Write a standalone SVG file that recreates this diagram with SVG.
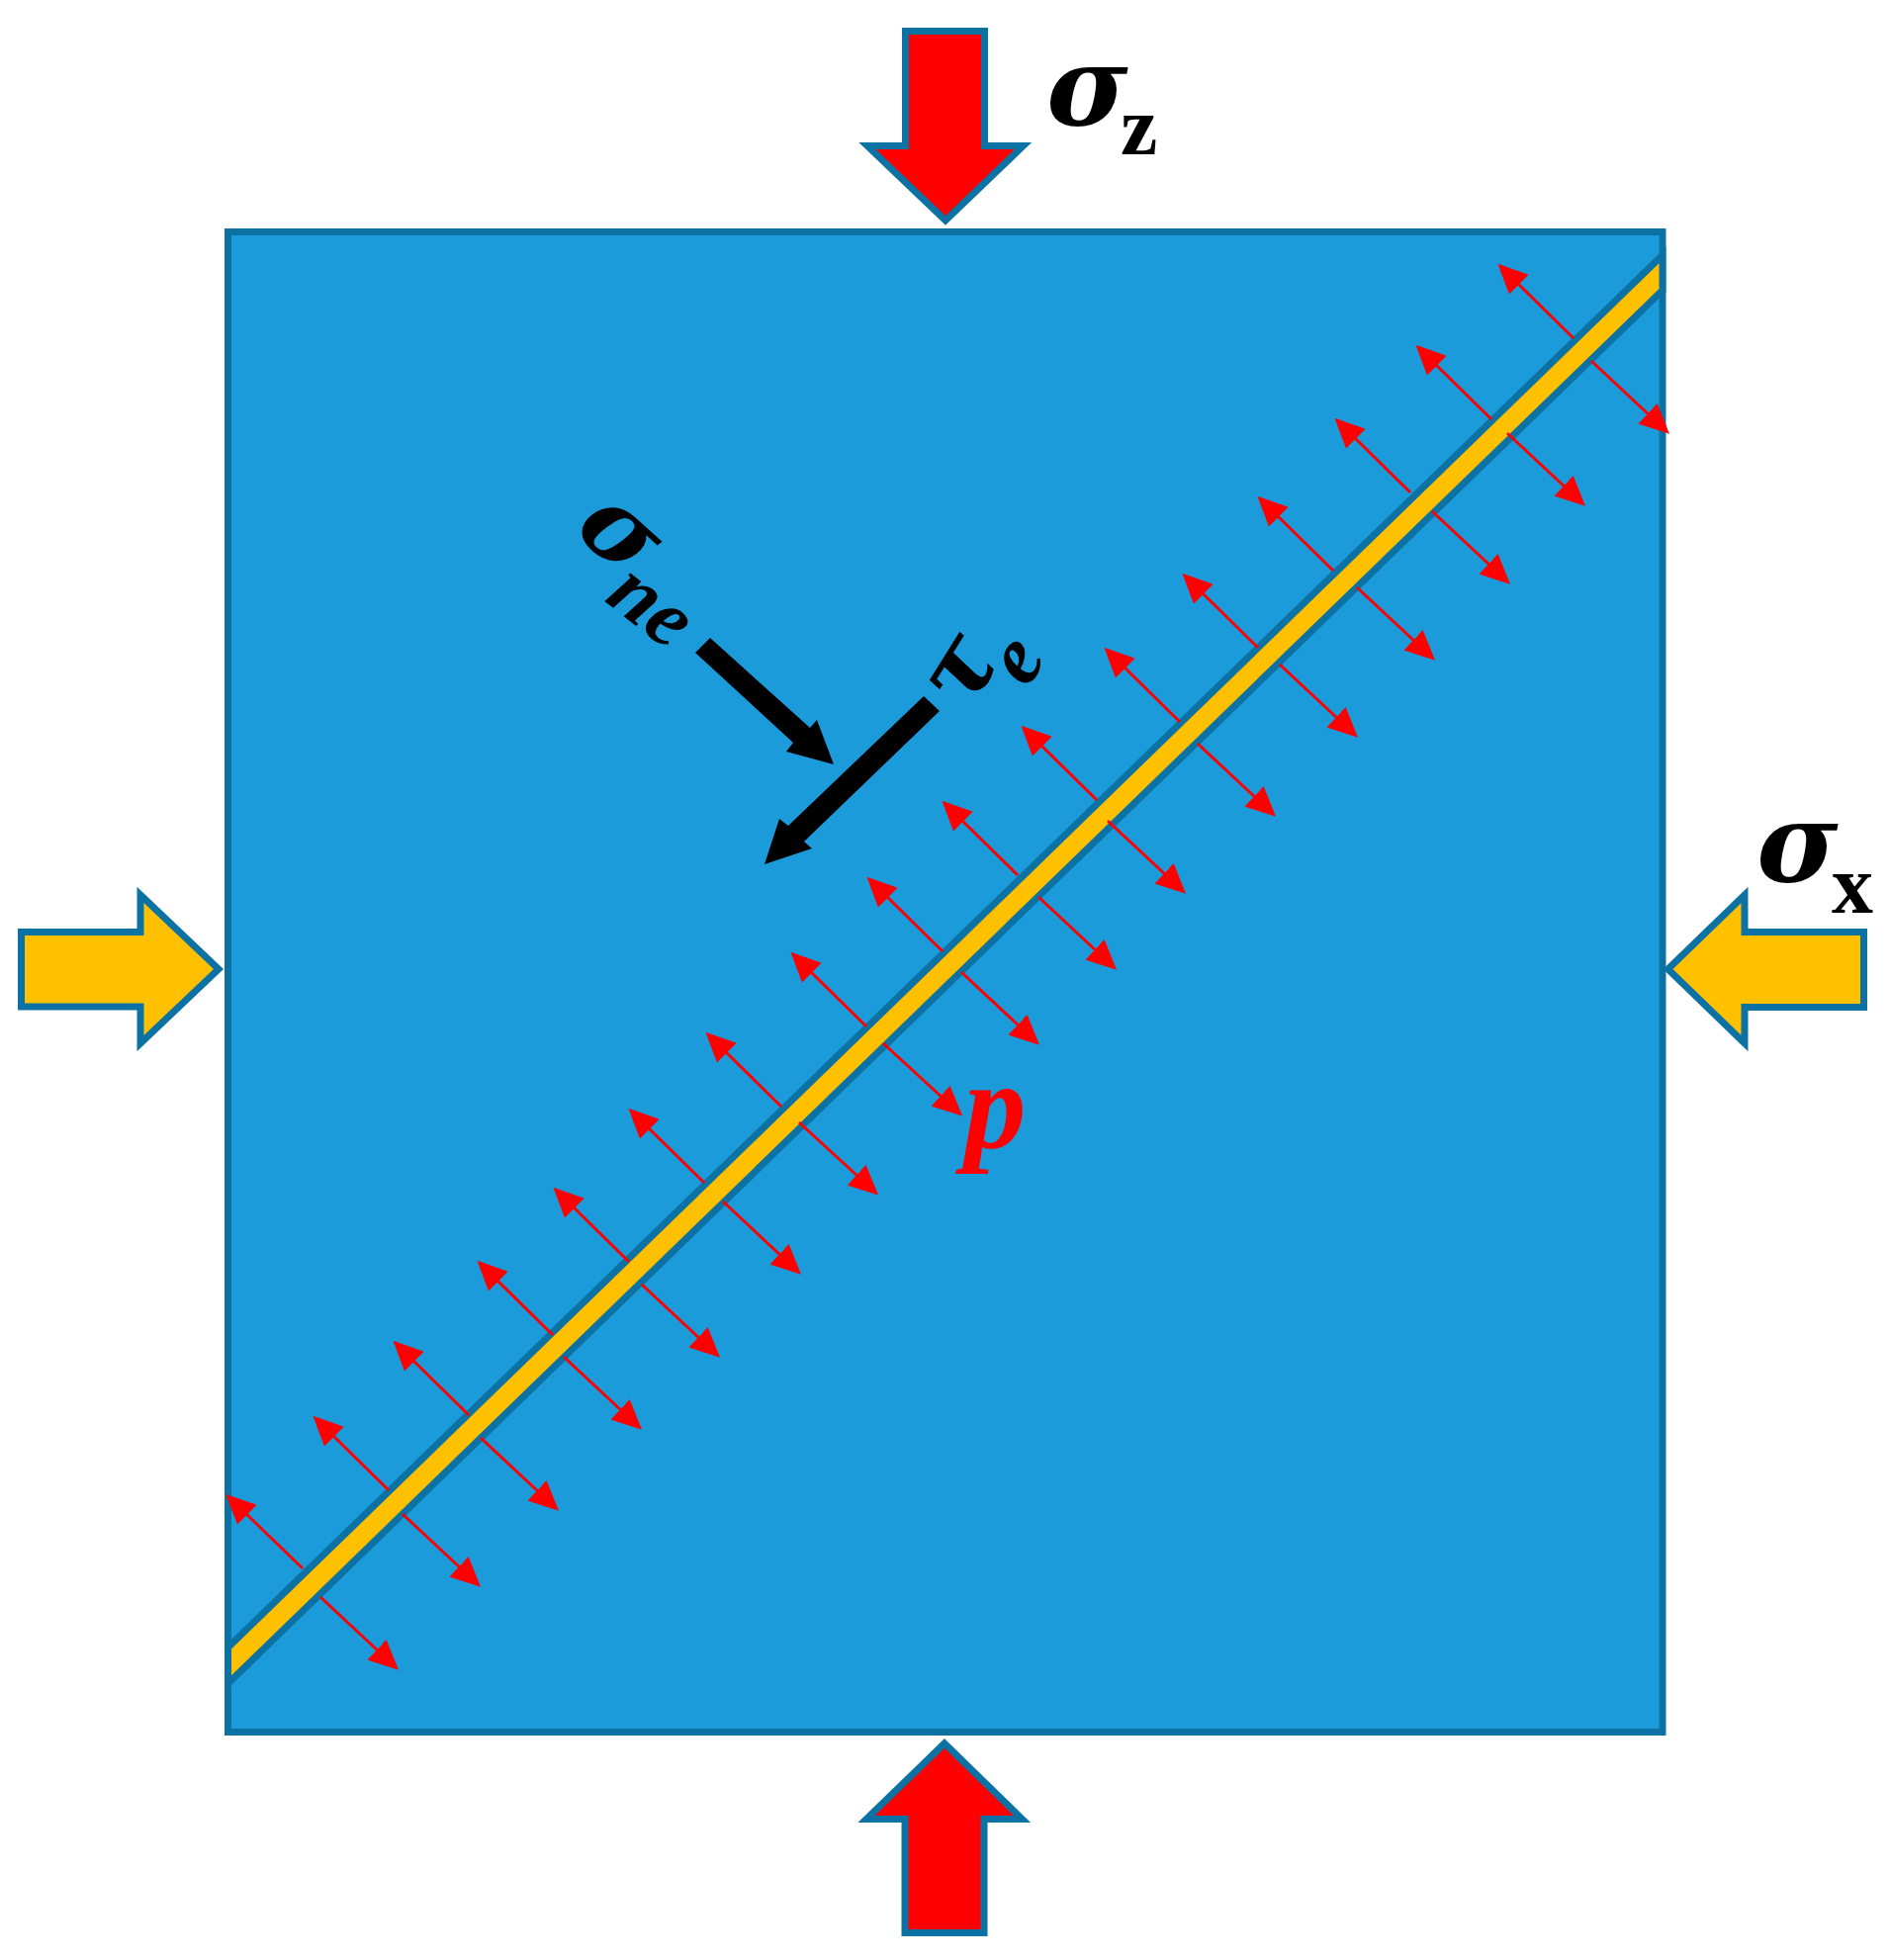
<svg xmlns="http://www.w3.org/2000/svg" width="1910" height="1982" viewBox="0 0 1910 1982">
<style>
.o{stroke:#0C72A3;stroke-width:7;stroke-miterlimit:20}
.r{fill:#FF0000}.y{fill:#FFC000}
.c line{stroke:#FF0000;stroke-width:3;marker-end:url(#h)}
text{font-family:"Liberation Serif","Times New Roman",serif;font-weight:bold}
.i{font-style:italic}
.g{font-family:"DejaVu Serif","Liberation Serif",serif;font-style:italic}
.m{text-anchor:middle}
</style>
<defs>
<marker id="h" markerUnits="userSpaceOnUse" markerWidth="30" markerHeight="28" refX="4" refY="14" orient="auto"><polygon points="0,0 30,14 0,28" fill="#FF0000"/></marker>
</defs>
<rect width="1910" height="1982" fill="#FFFFFF"/>
<g id="block"><rect class="o" x="230.5" y="234.5" width="1450.5" height="1517" fill="#1C9BDB"/></g>
<g id="fracture"><polygon class="o y" points="1681,258 1681,293.5 230.5,1702.5 230.5,1666"/></g>
<g id="arrow-top"><polygon class="o r" points="915.5,31.5 995.5,31.5 995.5,147.5 1034.5,147.5 956,223 877,147.5 915.5,147.5"/></g>
<g id="arrow-bottom"><polygon class="o r" points="955,1763 1033.5,1839.5 995,1839.5 995,1954.5 915,1954.5 915,1839.5 876,1839.5"/></g>
<g id="arrow-left"><polygon class="o y" points="21.5,942.5 142,942.5 142,905 221,980 142,1055 142,1018 21.5,1018"/></g>
<g id="arrow-right"><polygon class="o y" points="1884.5,942.5 1764,942.5 1764,905 1686.5,980 1764,1055 1764,1018.5 1884.5,1018.5"/></g>
<g id="connectors" class="c">
<line x1="1591" y1="342" x2="1533" y2="285"/><line x1="1508" y1="424" x2="1450" y2="367"/><line x1="1426" y1="498" x2="1368" y2="441"/><line x1="1348" y1="577" x2="1290" y2="520"/><line x1="1272" y1="655" x2="1214" y2="598"/><line x1="1193" y1="730" x2="1135" y2="673"/><line x1="1109" y1="809" x2="1051" y2="752"/><line x1="1029" y1="885" x2="971" y2="828"/><line x1="953" y1="962" x2="895" y2="905"/><line x1="876" y1="1038" x2="818" y2="981"/><line x1="790" y1="1119" x2="732" y2="1062"/><line x1="712" y1="1196" x2="654" y2="1139"/><line x1="636" y1="1276" x2="578" y2="1219"/><line x1="559" y1="1350" x2="501" y2="1293"/><line x1="474" y1="1431" x2="416" y2="1374"/><line x1="393" y1="1507" x2="335" y2="1450"/><line x1="306" y1="1586" x2="247" y2="1529"/>
<line x1="1609" y1="365" x2="1669" y2="421"/><line x1="1524" y1="438" x2="1584" y2="494"/><line x1="1448" y1="517" x2="1508" y2="573"/><line x1="1372" y1="594" x2="1432" y2="650"/><line x1="1294" y1="672" x2="1354" y2="728"/><line x1="1211" y1="752" x2="1271" y2="808"/><line x1="1120" y1="830" x2="1180" y2="886"/><line x1="1050" y1="907" x2="1110" y2="963"/><line x1="972" y1="983" x2="1032" y2="1039"/><line x1="893" y1="1055" x2="954" y2="1111"/><line x1="808" y1="1135" x2="869" y2="1191"/><line x1="731" y1="1215" x2="791" y2="1271"/><line x1="649" y1="1299" x2="709" y2="1355"/><line x1="570" y1="1372" x2="630" y2="1428"/><line x1="486" y1="1454" x2="546" y2="1510"/><line x1="407" y1="1531" x2="467" y2="1587"/><line x1="324" y1="1615" x2="384" y2="1671"/>
</g>
<g id="stress-normal"><polygon points="718,645 703,660 802,751 795,760 843,773 826,728 819,736"/></g>
<g id="stress-shear"><polygon points="934,704 950,719 813,851 821,858 773,874 788,828 797,835"/></g>
<g id="label-sigma-z"><text class="g" x="1058" y="126" font-size="112">σ</text><text x="1133" y="156" font-size="84">z</text></g>
<g id="label-sigma-x"><text class="g" x="1776" y="891" font-size="112">σ</text><text x="1852" y="923" font-size="84">x</text></g>
<g id="label-sigma-ne"><text class="g m" transform="translate(625,541) rotate(42)" y="28" font-size="102">σ</text><text class="i" transform="translate(610,607) rotate(38)" font-size="84">ne</text></g>
<g id="label-tau-e"><text class="g m" transform="translate(974,680) rotate(-58)" y="26" font-size="98">τ</text><text class="i m" transform="translate(1032,670) rotate(-58)" y="20" font-size="84">e</text></g>
<g id="label-p"><text class="i" x="975" y="1160" font-size="125" fill="#FF0000">p</text></g>
</svg>
